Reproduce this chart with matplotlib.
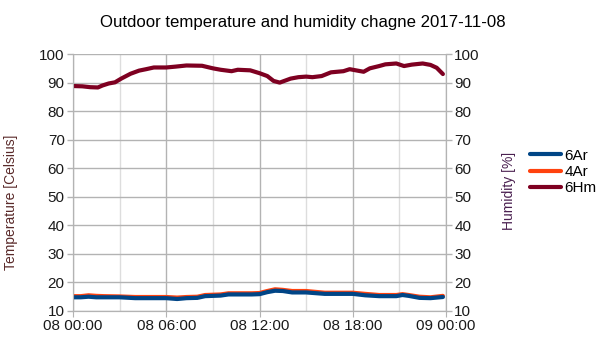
import matplotlib
matplotlib.use("Agg")
import matplotlib.pyplot as plt
import matplotlib.dates as mdates
import numpy as np
import pandas as pd

plt.rcParams["font.family"] = ["Liberation Sans", "DejaVu Sans"]

# hours since 2017-11-08 00:00
hum_hours = [0, 0.6, 1.1, 1.6, 1.9, 2.3, 2.7, 3.1, 3.7, 4.25, 4.7, 5.2, 6.0, 6.6,
             7.3, 8.3, 9.0, 9.5, 10.2, 10.6, 11.4, 12.0, 12.5, 12.9, 13.3, 14.0,
             14.5, 15.0, 15.4, 16.0, 16.6, 17.4, 17.8, 18.2, 18.7, 19.1, 19.7,
             20.1, 20.8, 21.3, 21.8, 22.5, 23.0, 23.4, 23.8]
hum_6hm = [88.8, 88.7, 88.4, 88.3, 89.0, 89.7, 90.1, 91.4, 93.1, 94.2, 94.7, 95.3,
           95.3, 95.6, 96.0, 95.9, 95.0, 94.5, 94.0, 94.5, 94.3, 93.3, 92.3, 90.6,
           90.0, 91.4, 91.9, 92.1, 91.9, 92.3, 93.6, 94.0, 94.7, 94.3, 93.8, 95.0,
           95.8, 96.4, 96.7, 95.8, 96.3, 96.7, 96.2, 95.2, 93.0]

tmp_hours = [0, 0.5, 1.0, 1.5, 2.0, 3.0, 4.0, 5.0, 6.0, 6.7, 7.3, 8.0, 8.5, 9.5,
             10.0, 11.5, 12.0, 12.5, 13.0, 13.5, 14.1, 15.0, 16.2, 18.0, 18.8,
             19.7, 20.8, 21.2, 21.6, 22.3, 23.0, 23.8]
tmp_6ar = [14.8, 14.8, 15.0, 14.8, 14.8, 14.8, 14.5, 14.5, 14.5, 14.2, 14.5, 14.6,
           15.2, 15.4, 15.8, 15.8, 15.9, 16.6, 17.1, 17.0, 16.5, 16.5, 16.0, 16.0,
           15.5, 15.2, 15.2, 15.6, 15.3, 14.6, 14.5, 14.9]
tmp_4ar = [15.2, 15.2, 15.5, 15.3, 15.2, 15.1, 14.9, 14.9, 14.9, 14.7, 14.9, 15.0,
           15.6, 15.8, 16.2, 16.2, 16.3, 17.0, 17.6, 17.4, 17.0, 17.0, 16.4, 16.4,
           16.0, 15.6, 15.6, 15.9, 15.6, 15.0, 14.8, 15.3]

start = pd.Timestamp("2017-11-08 00:00")
hum_t = [start + pd.Timedelta(hours=h) for h in hum_hours]
tmp_t = [start + pd.Timedelta(hours=h) for h in tmp_hours]

fig = plt.figure(figsize=(6.05, 3.4), dpi=100)
ax = fig.add_axes([0.1207, 0.0853, 0.6165, 0.7557])
ax2 = ax.twinx()

l2, = ax.plot(tmp_t, tmp_4ar, color="#ff420e", lw=3, solid_capstyle="round", zorder=3)
l1, = ax.plot(tmp_t, tmp_6ar, color="#004586", lw=3, solid_capstyle="round", zorder=4)
l3, = ax2.plot(hum_t, hum_6hm, color="#7e0021", lw=3, solid_capstyle="round")

for a in (ax, ax2):
    a.set_ylim(10, 100)
    a.set_yticks(np.arange(10, 101, 10))
    a.tick_params(axis="y", labelsize=11, colors="#b3b3b3", labelcolor="#1a1a1a",
                  length=4, width=1, pad=2)
    for s in a.spines.values():
        s.set_color("#b3b3b3")
ax2.spines["top"].set_visible(False)
ax.spines["top"].set_visible(False)

ax.set_xlim(start, start + pd.Timedelta(hours=24))
ax.xaxis.set_major_locator(mdates.HourLocator(byhour=[0, 6, 12, 18]))
ax.xaxis.set_minor_locator(mdates.HourLocator(byhour=[3, 9, 15, 21]))
ax.xaxis.set_major_formatter(mdates.DateFormatter("%d %H:%M"))
ax.tick_params(axis="x", which="major", labelsize=11, colors="#b3b3b3",
               labelcolor="#1a1a1a", length=4, pad=2)
ax.tick_params(axis="x", which="minor", length=0)

ax.grid(True, which="major", color="#b3b3b3", lw=1)
ax.grid(True, which="minor", axis="x", color="#dddddd", lw=1)
ax.set_axisbelow(True)

ax.set_ylabel("Temperature [Celsius]", color="#5a2a2a", fontsize=10)
ax.yaxis.set_label_coords(-0.147, 0.424)
ax2.set_ylabel("Humidity [%]", color="#4a2050", fontsize=10)
ax2.yaxis.set_label_coords(1.150, 0.467)

fig.text(0.5, 0.935, "Outdoor temperature and humidity chagne 2017-11-08",
         ha="center", va="center", fontsize=12.1)

fig.legend([l1, l2, l3], ["6Ar", "4Ar", "6Hm"], loc="upper left",
           bbox_to_anchor=(0.876, 0.563), frameon=False, fontsize=11,
           handlelength=2.0, handletextpad=0.25, labelspacing=0.15,
           borderaxespad=0, borderpad=0)

fig.savefig("out.png", dpi=100)
